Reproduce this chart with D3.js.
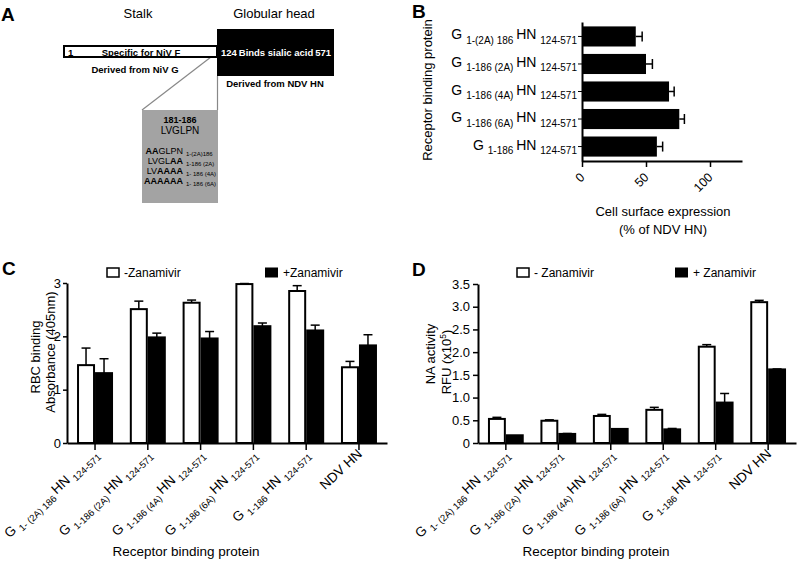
<!DOCTYPE html>
<html><head><meta charset="utf-8">
<script src="https://cdn.jsdelivr.net/npm/d3@7"></script>
<style>
body{margin:0;background:#fff;}
svg{font-family:"Liberation Sans",Arial,sans-serif;}
</style></head><body>
<svg id="fig" width="800" height="563"></svg>
<script>
// ---------- DATA ----------
const constructs = ["G1-(2A)186","G1-186(2A)","G1-186(4A)","G1-186(6A)","G1-186","NDV HN"];
const labelsBC = [
  ["G","1- (2A) 186","HN","124-571"],
  ["G","1-186 (2A)","HN","124-571"],
  ["G","1-186 (4A)","HN","124-571"],
  ["G","1-186 (6A)","HN","124-571"],
  ["G","1-186","HN","124-571"],
  ["NDV HN"]
];
const labelsB = [
  ["G","1-(2A) 186","HN","124-571"],
  ["G","1-186 (2A)","HN","124-571"],
  ["G","1-186 (4A)","HN","124-571"],
  ["G","1-186 (6A)","HN","124-571"],
  ["G","1-186","HN","124-571"]
];
const surfaceExpr = [42, 50, 68, 76, 58.5];
const surfaceSem  = [5, 5, 4, 4, 4.5];
const bTicks = [0, 50, 100];

const rbcMinus = [1.46, 2.51, 2.63, 2.98, 2.85, 1.42];
const rbcMinusSem = [0.32, 0.15, 0.05, 0.01, 0.10, 0.11];
const rbcPlus = [1.31, 1.98, 1.96, 2.19, 2.11, 1.83];
const rbcPlusSem = [0.27, 0.08, 0.13, 0.06, 0.10, 0.20];
const cTicks = [0, 1, 2, 3];

const naMinus = [0.53, 0.49, 0.595, 0.73, 2.12, 3.10];
const naMinusSem = [0.035, 0.02, 0.035, 0.055, 0.045, 0.04];
const naPlus = [0.17, 0.20, 0.31, 0.30, 0.89, 1.62];
const naPlusSem = [0.0, 0.01, 0.0, 0.02, 0.20, 0.01];
const dTicks = [0, 0.5, 1.0, 1.5, 2.0, 2.5, 3.0, 3.5];

const mutants = [
  {pre:"", bold:"AA", rest:"GLPN", sub:"1-(2A)186"},
  {pre:"LVGL", bold:"AA", rest:"", sub:"1-186 (2A)"},
  {pre:"LV", bold:"AAAA", rest:"", sub:"1- 186 (4A)"},
  {pre:"", bold:"AAAAAA", rest:"", sub:"1- 186 (6A)"}
];

// ---------- HELPERS ----------
const svg = d3.select("#fig");
function richLabel(sel, parts, big, small, shift){
  if(parts.length === 1){ sel.append("tspan").attr("font-size", big).text(parts[0]); return; }
  sel.append("tspan").attr("font-size", big).text(parts[0] + " ");
  sel.append("tspan").attr("font-size", small).attr("dy", shift).text(parts[1] + " ");
  sel.append("tspan").attr("font-size", big).attr("dy", -shift).text(parts[2] + " ");
  sel.append("tspan").attr("font-size", small).attr("dy", shift).text(parts[3]);
}
function panelLabel(t, x, y){
  svg.append("text").attr("x", x).attr("y", y).attr("font-size", 19).attr("font-weight", "bold").text(t);
}

// ---------- PANEL A ----------
panelLabel("A", 1, 21);
const A = svg.append("g");
A.append("text").attr("x", 138).attr("y", 18).attr("text-anchor","middle").attr("font-size",13).text("Stalk");
A.append("text").attr("x", 274).attr("y", 18).attr("text-anchor","middle").attr("font-size",13).text("Globular head");
A.append("line").attr("x1",142).attr("y1",110).attr("x2",211).attr("y2",57).attr("stroke","#888").attr("stroke-width",1.2);
A.append("line").attr("x1",217.5).attr("y1",76).attr("x2",217.5).attr("y2",110).attr("stroke","#888").attr("stroke-width",1.2);
A.append("rect").attr("x",64).attr("y",46).attr("width",153).attr("height",11).attr("fill","#fff").attr("stroke","#000").attr("stroke-width",2);
A.append("rect").attr("x",217).attr("y",29).attr("width",117).attr("height",47).attr("fill","#000");
A.append("text").attr("x",68).attr("y",55.5).attr("font-size",9.5).attr("font-weight","bold").text("1");
A.append("text").attr("x",141).attr("y",55.5).attr("text-anchor","middle").attr("font-size",9.5).attr("font-weight","bold").text("Specific for NiV F");
A.append("text").attr("x",135).attr("y",73).attr("text-anchor","middle").attr("font-size",9.5).attr("font-weight","bold").text("Derived from NiV G");
A.append("text").attr("x",221).attr("y",56).attr("font-size",9.5).attr("font-weight","bold").attr("fill","#fff").text("124");
A.append("text").attr("x",276).attr("y",56).attr("text-anchor","middle").attr("font-size",9.5).attr("font-weight","bold").attr("fill","#fff").text("Binds sialic acid");
A.append("text").attr("x",331).attr("y",56).attr("text-anchor","end").attr("font-size",9.5).attr("font-weight","bold").attr("fill","#fff").text("571");
A.append("text").attr("x",275).attr("y",87).attr("text-anchor","middle").attr("font-size",9.5).attr("font-weight","bold").text("Derived from NDV HN");
A.append("rect").attr("x",142).attr("y",110).attr("width",76).attr("height",93).attr("fill","#a3a3a3");
A.append("text").attr("x",180).attr("y",123).attr("text-anchor","middle").attr("font-size",9).attr("font-weight","bold").text("181-186");
A.append("text").attr("x",180).attr("y",134).attr("text-anchor","middle").attr("font-size",10).text("LVGLPN");
mutants.forEach((m,i)=>{
  const y = 154 + i*10;
  const t = A.append("text").attr("x",183).attr("y",y).attr("text-anchor","end").attr("font-size",9);
  if(m.pre) t.append("tspan").text(m.pre);
  t.append("tspan").attr("font-weight","bold").text(m.bold);
  if(m.rest) t.append("tspan").text(m.rest);
  A.append("text").attr("x",186).attr("y",y+2).attr("font-size",6).text(m.sub);
});

// ---------- PANEL B ----------
panelLabel("B", 412, 18);
const bx = d3.scaleLinear().domain([0,125]).range([582,742]);
const by = d3.scaleBand().domain(labelsB.map((d,i)=>i)).range([22,161]).paddingInner(0.27).paddingOuter(0.16);
const B = svg.append("g");
B.selectAll("rect.bar").data(surfaceExpr).join("rect").attr("class","bar")
  .attr("x", bx(0)).attr("y",(d,i)=>by(i)).attr("width",d=>bx(d)-bx(0)).attr("height",by.bandwidth()).attr("fill","#000");
surfaceExpr.forEach((v,i)=>{
  const cy = by(i)+by.bandwidth()/2;
  B.append("line").attr("x1",bx(v)).attr("x2",bx(v+surfaceSem[i])).attr("y1",cy).attr("y2",cy).attr("stroke","#000").attr("stroke-width",1.5);
  B.append("line").attr("x1",bx(v+surfaceSem[i])).attr("x2",bx(v+surfaceSem[i])).attr("y1",cy-5).attr("y2",cy+5).attr("stroke","#000").attr("stroke-width",1.5);
});
const bxAxis = B.append("g").attr("transform","translate(0,161)")
  .call(d3.axisBottom(bx).tickValues(bTicks).tickSize(6).tickSizeOuter(0));
bxAxis.select(".domain").attr("stroke-width",2);
bxAxis.selectAll(".tick line").attr("stroke-width",1.5);
bxAxis.selectAll(".tick text").attr("font-size",12.5).attr("font-family","Liberation Sans, Arial, sans-serif")
  .attr("text-anchor","end").attr("x",0).attr("y",0).attr("dy",0).attr("transform","translate(3,17) rotate(-45)");
const byAxis = B.append("g").attr("transform","translate(582,0)")
  .call(d3.axisLeft(by).tickSize(4).tickSizeOuter(0).tickFormat(""));
byAxis.select(".domain").attr("stroke-width",2);
labelsB.forEach((p,i)=>{
  const t = B.append("text").attr("x",577).attr("y",by(i)+by.bandwidth()/2+3).attr("text-anchor","end");
  richLabel(t,p,14,10,4.5);
});
B.append("text").attr("transform","translate(432,90) rotate(-90)").attr("text-anchor","middle").attr("font-size",13).text("Receptor binding protein");
B.append("text").attr("x",663).attr("y",216).attr("text-anchor","middle").attr("font-size",13).text("Cell surface expression");
B.append("text").attr("x",663).attr("y",234).attr("text-anchor","middle").attr("font-size",13).text("(% of NDV HN)");

// ---------- GROUPED PANELS C & D ----------
function grouped(cfg){
  const g = svg.append("g");
  const x = d3.scaleBand().domain(constructs).range([cfg.x0,cfg.x1]).paddingInner(0.318).paddingOuter(0.19);
  const y = d3.scaleLinear().domain(cfg.domain).range([443, cfg.yTop]);
  const bw = x.bandwidth()/2;
  const series = [
    {vals:cfg.minus, sem:cfg.minusSem, fill:"#fff", off:0},
    {vals:cfg.plus, sem:cfg.plusSem, fill:"#000", off:bw}
  ];
  series.forEach(s=>{
    g.selectAll(null).data(s.vals).join("rect")
      .attr("x",(d,i)=>x(constructs[i])+s.off+1).attr("y",d=>y(d))
      .attr("width",bw-2).attr("height",d=>y(0)-y(d))
      .attr("fill",s.fill).attr("stroke","#000").attr("stroke-width",2);
    s.vals.forEach((v,i)=>{
      if(s.sem[i] <= 0) return;
      const cx = x(constructs[i])+s.off+bw/2;
      g.append("line").attr("x1",cx).attr("x2",cx).attr("y1",y(v)).attr("y2",y(v+s.sem[i])).attr("stroke","#000").attr("stroke-width",1.5);
      g.append("line").attr("x1",cx-4.5).attr("x2",cx+4.5).attr("y1",y(v+s.sem[i])).attr("y2",y(v+s.sem[i])).attr("stroke","#000").attr("stroke-width",1.5);
    });
  });
  const xa = g.append("g").attr("transform","translate(0,443)")
    .call(d3.axisBottom(x).tickSize(7).tickSizeOuter(0).tickFormat(""));
  xa.select(".domain").attr("stroke-width",2);
  xa.selectAll(".tick line").attr("stroke-width",1.5);
  const ya = g.append("g").attr("transform",`translate(${cfg.x0},0)`)
    .call(d3.axisLeft(y).tickValues(cfg.ticks).tickSize(cfg.tick).tickPadding(cfg.pad).tickSizeOuter(0).tickFormat(cfg.fmt));
  ya.select(".domain").attr("stroke-width",2);
  ya.selectAll(".tick line").attr("stroke-width",1.5);
  ya.selectAll(".tick text").attr("font-size",13).attr("font-family","Liberation Sans, Arial, sans-serif").attr("fill","#000");
  labelsBC.forEach((p,i)=>{
    const cx = x(constructs[i])+x.bandwidth()/2;
    const t = g.append("text").attr("text-anchor","end")
      .attr("transform",`translate(${cx+4},${455}) rotate(-43)`);
    richLabel(t,p,13.5,9.5,4);
  });
  g.append("text").attr("x",cfg.titleX).attr("y",556).attr("text-anchor","middle").attr("font-size",13.5).text("Receptor binding protein");
  cfg.yTitle.forEach((tt,k)=>{
    const t = g.append("text").attr("transform",`translate(${cfg.yTitleX[k]},${cfg.yTitleY[k]}) rotate(-90)`).attr("text-anchor","middle").attr("font-size",13);
    if(typeof tt === "string") t.text(tt);
    else { t.append("tspan").text(tt[0]); t.append("tspan").attr("font-size",8.5).attr("dy",-5).text(tt[1]); t.append("tspan").attr("dy",5).text(tt[2]); }
  });
  g.append("rect").attr("x",cfg.leg[0]).attr("y",268).attr("width",12).attr("height",9).attr("fill","#fff").attr("stroke","#000").attr("stroke-width",1.5);
  g.append("text").attr("x",cfg.leg[0]+17).attr("y",277).attr("font-size",12).text(cfg.legText[0]);
  g.append("rect").attr("x",cfg.leg[1]).attr("y",267.5).attr("width",13).attr("height",10).attr("fill","#000");
  g.append("text").attr("x",cfg.leg[1]+18).attr("y",277).attr("font-size",12).text(cfg.legText[1]);
}

panelLabel("C", 2, 275);
grouped({x0:67, x1:387, yTop:283, domain:[0,3], ticks:cTicks, fmt:d3.format("d"), tick:4, pad:2,
  minus:rbcMinus, minusSem:rbcMinusSem, plus:rbcPlus, plusSem:rbcPlusSem,
  titleX:186, yTitle:["RBC binding","Absorbance (405nm)"], yTitleX:[40,55], yTitleY:[357,352],
  leg:[107,265], legText:["-Zanamivir","+Zanamivir"]});

panelLabel("D", 412, 276);
grouped({x0:478, x1:796, yTop:284, domain:[0,3.5], ticks:dTicks, fmt:d=>d===0?"0":d.toFixed(1), tick:5, pad:3,
  minus:naMinus, minusSem:naMinusSem, plus:naPlus, plusSem:naPlusSem,
  titleX:596, yTitle:["NA activity",["RFU (x10","5",")"]], yTitleX:[435,451], yTitleY:[354,362],
  leg:[517,675], legText:["- Zanamivir","+ Zanamivir"]});
</script>
</body></html>
